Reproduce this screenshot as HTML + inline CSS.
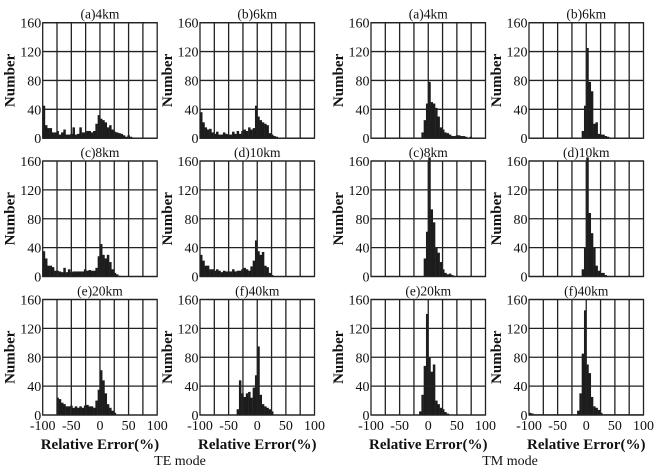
<!DOCTYPE html>
<html><head><meta charset="utf-8">
<style>
html,body{margin:0;padding:0;background:#fff;}
svg{display:block;font-family:"Liberation Serif",serif;}
</style></head>
<body>
<svg id="fig" width="658" height="474" viewBox="0 0 658 474" xmlns="http://www.w3.org/2000/svg"></svg>
<script>
// Bin centers (Relative Error %), 4% bins from -100 to 100
const binCenters = [];
for (let i = 0; i < 50; i++) binCenters.push(-98 + 4 * i);
const yTicks = [0, 40, 80, 120, 160];
const xTicks = [-100, -50, 0, 50, 100];
const panelTitles = ["(a)4km","(b)6km","(c)8km","(d)10km","(e)20km","(f)40km"];
const modeLabels = ["TE mode","TM mode"];

const teA = [45,18,14,14,8,8,10,5,8,12,5,5,6,15,5,6,15,8,8,10,10,8,10,20,32,27,25,22,15,18,12,9,8,7,6,4,2,4,2,1,0,0,0,0,0,0,0,0,0,0];
const teB = [36,22,15,12,13,8,6,9,5,5,8,6,5,5,9,6,10,6,10,12,10,15,12,14,45,30,25,22,20,18,7,5,3,2,0,0,0,0,0,0,0,0,0,0,0,0,0,0,0,0];
const teC = [35,25,15,15,13,8,8,7,6,12,6,10,6,7,7,7,7,7,10,8,9,8,8,12,28,45,30,25,30,20,10,5,3,1,0,0,0,0,0,0,0,0,0,0,0,0,0,0,0,0];
const teD = [30,22,15,15,10,10,8,10,8,6,8,7,7,7,10,7,8,8,10,12,10,8,14,22,50,35,30,34,15,13,5,2,0,0,0,0,0,0,0,0,0,0,0,0,0,0,0,0,0,0];
const teE = [0,0,0,0,0,0,24,22,17,15,12,12,13,10,12,10,12,10,13,14,12,12,10,20,35,62,48,30,15,10,6,3,0,0,0,0,0,0,0,0,0,0,0,0,0,0,0,0,0,0];
const teF = [0,0,0,0,0,0,0,0,0,0,0,0,0,0,0,0,8,48,30,25,30,32,24,38,55,95,28,15,12,10,8,5,0,0,0,0,0,0,0,0,0,0,0,0,0,0,0,0,0,0];
const tmA = [0,0,0,0,0,0,0,0,0,0,0,0,0,0,0,0,0,0,0,0,0,0,8,25,48,78,50,48,42,30,15,12,8,7,5,3,3,4,4,3,3,2,1,2,1,1,1,0,0,0];
const tmB = [0,0,0,0,0,0,0,0,0,0,0,0,0,0,0,0,0,0,0,0,0,0,0,10,45,125,78,65,20,22,6,5,5,3,2,0,0,0,0,0,0,0,0,0,0,0,0,0,0,0];
const tmC = [0,0,0,0,0,0,0,0,0,0,0,0,0,0,0,0,0,0,0,0,0,0,0,25,62,165,93,75,40,33,20,10,5,3,4,2,0,0,0,0,0,0,0,0,0,0,0,0,0,0];
const tmD = [0,0,0,0,0,0,0,0,0,0,0,0,0,0,0,0,0,0,0,0,0,0,0,10,40,165,88,60,40,15,8,5,5,2,0,0,0,0,0,0,0,0,0,0,0,0,0,0,0,0];
const tmE = [0,0,0,0,0,0,0,0,0,0,0,0,0,0,0,0,0,0,0,0,0,5,28,68,140,80,60,70,20,15,10,8,4,2,0,0,0,0,0,0,0,0,0,0,0,0,0,0,0,0];
const tmF = [3,2,1,1,1,1,1,1,1,1,1,1,1,1,1,1,1,1,1,1,1,6,30,85,145,70,58,25,12,10,7,3,1,1,1,1,1,1,1,1,1,1,1,1,1,1,1,1,1,1];

const series = [teA,teB,teC,teD,teE,teF,tmA,tmB,tmC,tmD,tmE,tmF];
const binWidth = 4;

const NS = "http://www.w3.org/2000/svg";
const svg = document.getElementById("fig");
function mk(tag, attrs, parent) {
  const e = document.createElementNS(NS, tag);
  for (const k in attrs) e.setAttribute(k, attrs[k]);
  (parent || svg).appendChild(e);
  return e;
}
const colLeft = [42.7, 200, 371, 529];
const rowTop = [22.7, 161, 299.5];
const PW = 114.5, PH = 115.5;

for (let p = 0; p < 12; p++) {
  const mode = p < 6 ? 0 : 1;
  const k = p % 6;
  const col = mode * 2 + (k % 2);
  const row = Math.floor(k / 2);
  const L = colLeft[col], T = rowTop[row];
  const xS = v => L + (v + 100) / 200 * PW;
  const yS = v => T + PH - v / 160 * PH;
  const g = mk("g", {});
  
  

  const vals = series[p];
  vals.forEach((v, i) => {
    if (v <= 0) return;
    const x0 = xS(binCenters[i] - binWidth / 2), x1 = xS(binCenters[i] + binWidth / 2);
    const r = mk("rect", {x: x0, y: yS(v), width: x1 - x0 + 0.2, height: yS(0) - yS(v), fill: "#1c1c1c"}, g);
    
    
  });
  for (let j = 1; j < 8; j++) {
    const x = xS(-100 + j * 25);
    const l = mk("line", {x1: x, x2: x, y1: T, y2: T + PH, stroke: "#222", "stroke-width": 1.3}, g);
    
    
  }
  yTicks.forEach(t => {
    const y = yS(t);
    const l = mk("line", {x1: L, x2: L + PW, y1: y, y2: y, stroke: "#222", "stroke-width": 1.3}, g);
    
    
    const tx = mk("text", {x: L - 1.5, y: y + 5, "text-anchor": "end", "font-size": 14, fill: "#111"}, g);
    tx.textContent = t;
    
    
  });
  const fr = mk("rect", {x: L, y: T, width: PW, height: PH, fill: "none", stroke: "#222", "stroke-width": 1.3}, g);
  
  

  const ti = mk("text", {x: L + PW / 2, y: T - 4, "text-anchor": "middle", "font-size": 13.5, fill: "#111"}, g);
  ti.textContent = panelTitles[k];
  
  

  const yl = mk("text", {x: 0, y: 0, "text-anchor": "middle", "font-size": 15, "font-weight": "bold", fill: "#111",
    transform: "translate(" + (L - 28) + "," + (T + PH / 2) + ") rotate(-90)"}, g);
  yl.textContent = "Number";
  
  

  if (row === 2) {
    xTicks.forEach(t => {
      const tx = mk("text", {x: xS(t), y: T + PH + 15, "text-anchor": "middle", "font-size": 14, fill: "#111"}, g);
      tx.textContent = t;
      
      
    });
    const xl = mk("text", {x: L + PW / 2, y: T + PH + 34, "text-anchor": "middle", "font-size": 15, "font-weight": "bold", fill: "#111"}, g);
    xl.textContent = "Relative Error(%)";
    
    
  }
}
[180, 510].forEach((x, m) => {
  const t = mk("text", {x: x, y: 465, "text-anchor": "middle", "font-size": 14, fill: "#111"});
  t.textContent = modeLabels[m];
  
  
});
</script>
</body></html>
